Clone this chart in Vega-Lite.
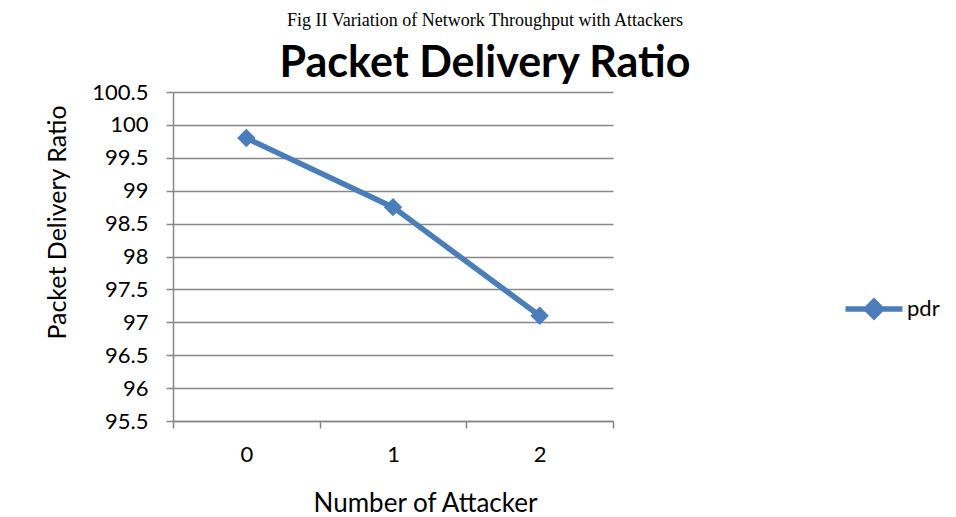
{
  "$schema": "https://vega.github.io/schema/vega-lite/v6.json",
  "width": 440,
  "height": 329,
  "autosize": {"type": "none"},
  "padding": {"left": 173, "top": 92, "right": 343, "bottom": 96},
  "background": "white",
  "title": {
    "text": "Fig II Variation of Network Throughput with Attackers",
    "subtitle": "Packet Delivery Ratio",
    "anchor": "middle",
    "frame": "group",
    "dx": 92,
    "offset": -5,
    "font": "Liberation Serif",
    "fontSize": 18,
    "fontWeight": "normal",
    "color": "black",
    "subtitleFont": "Lato",
    "subtitleFontSize": 43,
    "subtitleFontWeight": "bold",
    "subtitleColor": "black",
    "subtitlePadding": 13
  },
  "data": {
    "values": [
      {"attackers": 0, "pdr": 99.8, "series": "pdr"},
      {"attackers": 1, "pdr": 98.75, "series": "pdr"},
      {"attackers": 2, "pdr": 97.1, "series": "pdr"}
    ]
  },
  "mark": {
    "type": "line",
    "strokeWidth": 5.5,
    "point": {"shape": "diamond", "size": 340, "filled": true, "opacity": 1}
  },
  "encoding": {
    "x": {
      "field": "attackers",
      "type": "ordinal",
      "scale": {"type": "band", "paddingInner": 0, "paddingOuter": 0},
      "axis": {
        "title": "Number of Attacker",
        "labelAngle": 0,
        "tickBand": "extent",
        "tickSize": 7,
        "tickColor": "#878787",
        "tickWidth": 1.5,
        "domainColor": "#878787",
        "domainWidth": 1.5,
        "grid": false,
        "labelFont": "Lato",
        "labelFontSize": 22,
        "labelColor": "black",
        "labelPadding": 16,
        "titleFont": "Lato",
        "titleFontSize": 26,
        "titleFontWeight": "normal",
        "titleColor": "black",
        "titleX": 252,
        "titleY": 82,
        "titleBaseline": "middle",
        "titleAnchor": "middle"
      }
    },
    "y": {
      "field": "pdr",
      "type": "quantitative",
      "scale": {"domain": [95.5, 100.5], "zero": false, "nice": false},
      "axis": {
        "title": "Packet Delivery Ratio",
        "values": [95.5, 96, 96.5, 97, 97.5, 98, 98.5, 99, 99.5, 100, 100.5],
        "format": "~f",
        "grid": true,
        "gridColor": "#878787",
        "gridWidth": 1.5,
        "tickSize": 7,
        "tickColor": "#878787",
        "tickWidth": 1.5,
        "domainColor": "#878787",
        "domainWidth": 1.5,
        "labelFont": "Lato",
        "labelFontSize": 22,
        "labelColor": "black",
        "labelPadding": 18,
        "titleFont": "Lato",
        "titleFontSize": 25,
        "titleFontWeight": "normal",
        "titleColor": "black",
        "titleX": -116,
        "titleY": 130,
        "titleAngle": -90,
        "titleBaseline": "middle",
        "titleAlign": "center"
      }
    },
    "color": {
      "field": "series",
      "type": "nominal",
      "scale": {"range": ["#4a7ebb"]},
      "legend": {
        "title": null,
        "orient": "none",
        "legendX": 688,
        "legendY": 204,
        "padding": 0,
        "symbolType": "M-2.85,0H2.85M-0.75,0L0,-0.75L0.75,0L0,0.75Z",
        "symbolSize": 400,
        "symbolStrokeWidth": 5.5,
        "symbolFillColor": "#4a7ebb",
        "symbolStrokeColor": "#4a7ebb",
        "symbolOpacity": 1,
        "labelFont": "Lato",
        "labelFontSize": 22,
        "labelColor": "black",
        "labelOffset": 20
      }
    }
  },
  "config": {"view": {"stroke": null}}
}
